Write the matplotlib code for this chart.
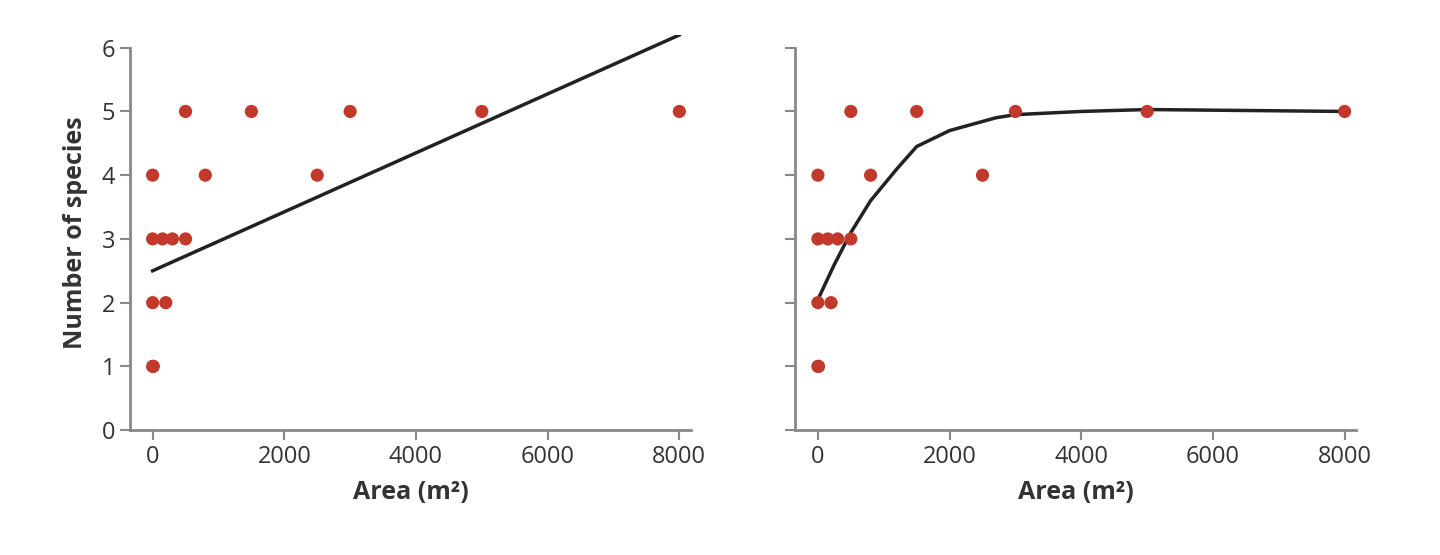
import matplotlib
matplotlib.use("Agg")
import matplotlib.pyplot as plt

area = [0, 10, 0, 200, 0, 150, 300, 500, 0, 800, 500, 1500, 2500, 3000, 5000, 8000]
species = [1, 1, 2, 2, 3, 3, 3, 3, 4, 4, 5, 5, 4, 5, 5, 5]
lin_x = [0, 8000]
lin_y = [2.5, 6.2]
curve_x = [0, 250, 500, 800, 1200, 1500, 2000, 2700, 3000, 4000, 5000, 8000]
curve_y = [2.05, 2.6, 3.1, 3.6, 4.1, 4.45, 4.7, 4.9, 4.95, 5.0, 5.03, 5.0]

plt.rcParams['font.family'] = ['Open Sans', 'DejaVu Sans']
fig = plt.figure(figsize=(14.4, 5.55), dpi=100)
ax1 = fig.add_axes([0.09, 0.225, 0.39, 0.712])
ax2 = fig.add_axes([0.552, 0.225, 0.39, 0.712])
red = '#c0392b'
for ax, (lx, ly) in ((ax1, (lin_x, lin_y)), (ax2, (curve_x, curve_y))):
    ax.plot(lx, ly, color='#222222', lw=2.5, zorder=2)
    ax.scatter(area, species, s=90, color=red, zorder=3, edgecolors='none')
    ax.set_xlim(-350, 8180)
    ax.set_ylim(0, 6.2)
    ax.set_xticks([0, 2000, 4000, 6000, 8000])
    ax.set_yticks(range(7))
    for s in ('top', 'right'):
        ax.spines[s].set_visible(False)
    for s in ('left', 'bottom'):
        ax.spines[s].set_color('#888888')
        ax.spines[s].set_linewidth(2)
    ax.spines['left'].set_bounds(0, 6)
    ax.tick_params(colors='#888888', labelcolor='#333333', labelsize=17, width=1.5, length=7)
    ax.set_xlabel('Area (m²)', fontsize=18, fontweight='bold', color='#333333', labelpad=8)
ax1.set_ylabel('Number of species', fontsize=18, fontweight='bold', color='#333333', labelpad=10)
ax2.tick_params(axis='y', labelleft=False)
fig.savefig('out.png', dpi=100)
